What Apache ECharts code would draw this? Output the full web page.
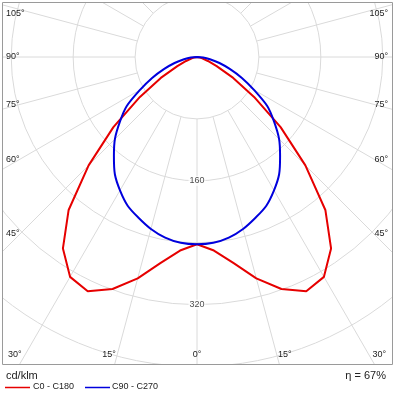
<!DOCTYPE html>
<html><head><meta charset="utf-8">
<script src="https://cdn.jsdelivr.net/npm/echarts@6/dist/echarts.min.js"></script>
<style>html,body{margin:0;padding:0;background:#fff}#c{width:395px;height:400px}</style>
</head><body><div id="c"></div>
<script>
// ---- data (cd/klm) ----
const angles   = [0, 5, 10, 15, 20, 25, 30, 35, 40, 45, 50, 55, 60, 65, 70, 75, 80, 85, 90];
const c0c180   = [242, 251, 270, 296, 319, 334, 328, 302, 258, 198, 141, 90, 54, 28, 15, 7, 3, 1, 0];
const c90c270  = [242, 241, 237, 230, 221, 212, 199, 185, 167, 150, 130, 111, 85, 64, 45, 30, 17, 8, 0];
const seriesNames = ['C0 - C180', 'C90 - C270'];
const radiusLabels = [160, 320];
const sideAngleLabels = [105, 90, 75, 60, 45];
const bottomAngleLabels = [30, 15, 0];
const radialAngles = [-165, -150, -135, -120, -105, -90, -75, -60, -45, -30, -15, 0, 15, 30, 45, 60, 75, 90, 105, 120, 135, 150, 165, 180];
const ringStep = 80;
const ringMax = 480;
const unitText = 'cd/klm';
const effText = 'η = 67%';

// ---- layout ----
const CX = 197, CY = 57, PXU = 0.774;
const BOX = {x: 2, y: 2, w: 391, h: 363};
const RED = '#e60000', BLUE = '#0000dd', GRID = '#dadada', TXT = '#222';
const FONT = '"Liberation Sans", Arial, sans-serif';

function mirror(vals) {
  const pts = [];
  for (let i = angles.length - 1; i > 0; i--) pts.push([vals[i], -angles[i]]);
  for (let i = 0; i < angles.length; i++) pts.push([vals[i], angles[i]]);
  return pts;
}

const series = radialAngles.map(a => ({
  type: 'line', coordinateSystem: 'polar', silent: true, showSymbol: false, animation: false,
  data: [[ringStep, a], [ringMax, a]], lineStyle: {color: GRID, width: 1}, z: 1
}));
series.push({
  name: seriesNames[0], type: 'line', coordinateSystem: 'polar', showSymbol: false, animation: false,
  data: mirror(c0c180), lineStyle: {color: RED, width: 2}, z: 4
});
series.push({
  name: seriesNames[1], type: 'line', coordinateSystem: 'polar', showSymbol: false, animation: false,
  smooth: 0.3, data: mirror(c90c270), lineStyle: {color: BLUE, width: 2}, z: 5
});
series.push({
  type: 'scatter', coordinateSystem: 'polar', silent: true, animation: false, symbolSize: 1, z: 3,
  itemStyle: {color: 'rgba(0,0,0,0)'},
  data: radiusLabels.map(v => [v, 0]),
  label: {show: true, position: 'inside', formatter: p => String(p.value[0]),
          color: TXT, fontSize: 9, fontFamily: FONT, backgroundColor: '#fff', padding: [1, 1, 0, 1]}
});

// angle labels along box edges
const graphics = [];
const mask = (x, y, w, h) => ({type: 'rect', z: 100, silent: true, shape: {x, y, width: w, height: h}, style: {fill: '#fff'}});
graphics.push(mask(0, 0, 395, BOX.y), mask(0, 0, BOX.x, 400), mask(BOX.x + BOX.w, 0, 10, 400), mask(0, BOX.y + BOX.h, 395, 40));
graphics.push({type: 'rect', z: 101, silent: true, shape: {x: BOX.x + 0.5, y: BOX.y + 0.5, width: BOX.w - 1, height: BOX.h - 1},
  style: {fill: 'none', stroke: '#9a9a9a', lineWidth: 1}});
const txt = (text, x, y, align, size) => ({type: 'text', z: 102, silent: true,
  style: {text, x, y, align, verticalAlign: 'middle', fill: TXT, font: size + 'px ' + FONT}});
sideAngleLabels.forEach(a => {
  const r = a * Math.PI / 180;
  const y = Math.max(14, CY + 177 * Math.cos(r) / Math.sin(r));
  graphics.push(txt(a + '°', 6, y, 'left', 9), txt(a + '°', 388, y, 'right', 9));
});
bottomAngleLabels.forEach(a => {
  const dx = (385 - CY) * Math.tan(a * Math.PI / 180);
  const y = 355;
  if (a === 0) { graphics.push(txt('0°', CX, y, 'center', 9)); return; }
  const l = CX - dx, rr = CX + dx;
  graphics.push(l - 7 < 8 ? txt(a + '°', 8, y, 'left', 9) : txt(a + '°', l, y, 'center', 9));
  graphics.push(rr + 7 > 386 ? txt(a + '°', 386, y, 'right', 9) : txt(a + '°', rr, y, 'center', 9));
});
// legend and notes
graphics.push(txt(unitText, 6, 376, 'left', 11), txt(effText, 386, 376, 'right', 11));
graphics.push({type: 'line', z: 102, silent: true, shape: {x1: 5, y1: 387.5, x2: 30, y2: 387.5}, style: {stroke: RED, lineWidth: 1.5}});
graphics.push(txt(seriesNames[0], 33, 387, 'left', 9));
graphics.push({type: 'line', z: 102, silent: true, shape: {x1: 85, y1: 387.5, x2: 110, y2: 387.5}, style: {stroke: BLUE, lineWidth: 1.5}});
graphics.push(txt(seriesNames[1], 112, 387, 'left', 9));

const chart = echarts.init(document.getElementById('c'), null, {renderer: 'canvas'});
chart.setOption({
  animation: false,
  polar: {center: [CX, CY], radius: [0, ringMax * PXU]},
  angleAxis: {type: 'value', min: -180, max: 180, startAngle: 90, clockwise: false,
    axisLine: {show: false}, axisTick: {show: false}, axisLabel: {show: false}, splitLine: {show: false}},
  radiusAxis: {type: 'value', min: 0, max: ringMax, interval: ringStep,
    axisLine: {show: false}, axisTick: {show: false}, axisLabel: {show: false},
    splitLine: {show: true, lineStyle: {color: GRID, width: 1}}},
  series,
  graphic: graphics
});
</script></body></html>
